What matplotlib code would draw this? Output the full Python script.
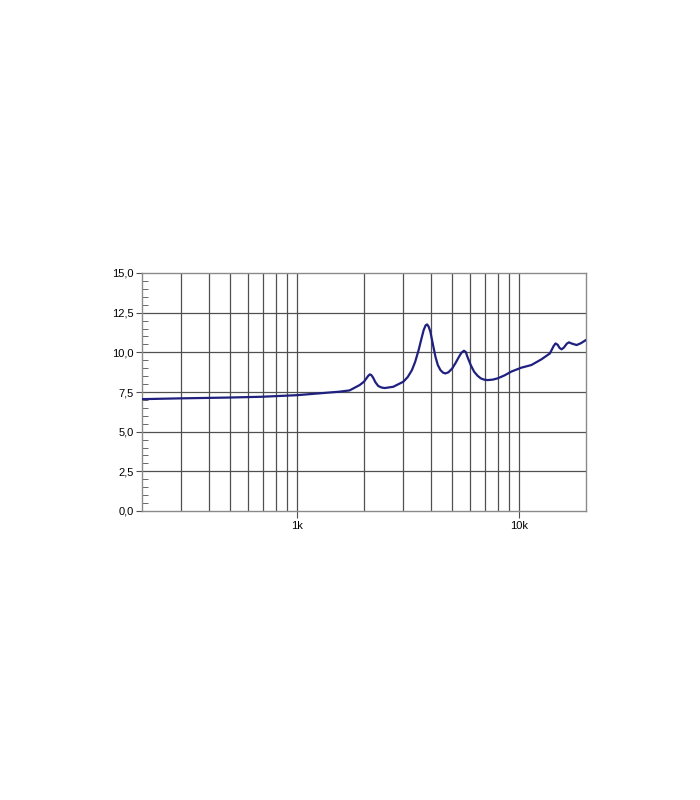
import matplotlib
matplotlib.use("Agg")
import matplotlib.pyplot as plt
from matplotlib.ticker import FixedLocator, NullFormatter, MultipleLocator

freq = [200, 300, 491, 693, 1000, 1552, 1722, 1913, 2000, 2051, 2090, 2125, 2160,
        2199, 2250, 2318, 2400, 2484, 2710, 3010, 3150, 3288, 3400, 3524, 3620,
        3713, 3790, 3849, 3910, 3981, 4080, 4197, 4300, 4420, 4540, 4652, 4800,
        4997, 5180, 5356, 5500, 5641, 5750, 5846, 6050, 6266, 6500, 6714, 6950,
        7207, 7600, 8000, 8600, 9199, 10210, 11350, 12600, 13750, 14300, 14580,
        14900, 15200, 15530, 15900, 16400, 16760, 17200, 18150, 19000, 20000]
impedance = [7.05, 7.10, 7.15, 7.20, 7.30, 7.52, 7.60, 7.94, 8.15, 8.36, 8.52,
             8.61, 8.56, 8.40, 8.12, 7.88, 7.78, 7.75, 7.83, 8.15, 8.45, 8.88,
             9.40, 10.14, 10.80, 11.40, 11.70, 11.76, 11.62, 11.30, 10.55, 9.72,
             9.20, 8.88, 8.72, 8.67, 8.74, 8.99, 9.35, 9.72, 9.98, 10.10, 10.02,
             9.72, 9.20, 8.78, 8.52, 8.36, 8.28, 8.25, 8.28, 8.36, 8.55, 8.78,
             9.03, 9.20, 9.56, 9.93, 10.40, 10.56, 10.48, 10.28, 10.19, 10.30,
             10.55, 10.63, 10.56, 10.46, 10.58, 10.78]
y_ticks = [0, 2.5, 5, 7.5, 10, 12.5, 15]
y_labels = ["0,0", "2,5", "5,0", "7,5", "10,0", "12,5", "15,0"]
x_grid = [300, 400, 500, 600, 700, 800, 900, 1000, 2000, 3000, 4000, 5000,
          6000, 7000, 8000, 9000, 10000]
x_labels = {1000: "1k", 10000: "10k"}

plt.rcParams['font.family'] = ['Liberation Sans', 'DejaVu Sans']
fig = plt.figure(figsize=(7, 8), dpi=100)
ax = fig.add_axes([142/700, 1-511/800, 444/700, 238/800])

ax.plot(freq, impedance, color="#1f2080", lw=1.6, zorder=3,
        solid_joinstyle="round", solid_capstyle="round")
ax.set_xscale("log")
ax.set_xlim(200, 20000)
ax.set_ylim(0, 15)

gc = "#505050"
for xv in x_grid:
    ax.axvline(xv, color=gc, lw=0.9, zorder=1)
for yv in y_ticks[1:-1]:
    ax.axhline(yv, color=gc, lw=0.9, zorder=1)

ax.xaxis.set_major_locator(FixedLocator(list(x_labels.keys())))
ax.set_xticklabels(list(x_labels.values()))
ax.xaxis.set_minor_locator(FixedLocator([]))
ax.xaxis.set_minor_formatter(NullFormatter())
ax.set_yticks(y_ticks)
ax.set_yticklabels(y_labels)
ax.yaxis.set_minor_locator(MultipleLocator(0.5))

ax.tick_params(axis="y", which="major", direction="out", length=4, color=gc,
               labelsize=8, pad=2)
ax.tick_params(axis="y", which="minor", direction="in", length=4, color=gc)
ax.tick_params(axis="x", which="major", direction="out", length=5, color=gc,
               labelsize=8, pad=2)
for s in ax.spines.values():
    s.set_color("#8a8a8a")
    s.set_linewidth(1.0)

fig.savefig("out.png", dpi=100)
